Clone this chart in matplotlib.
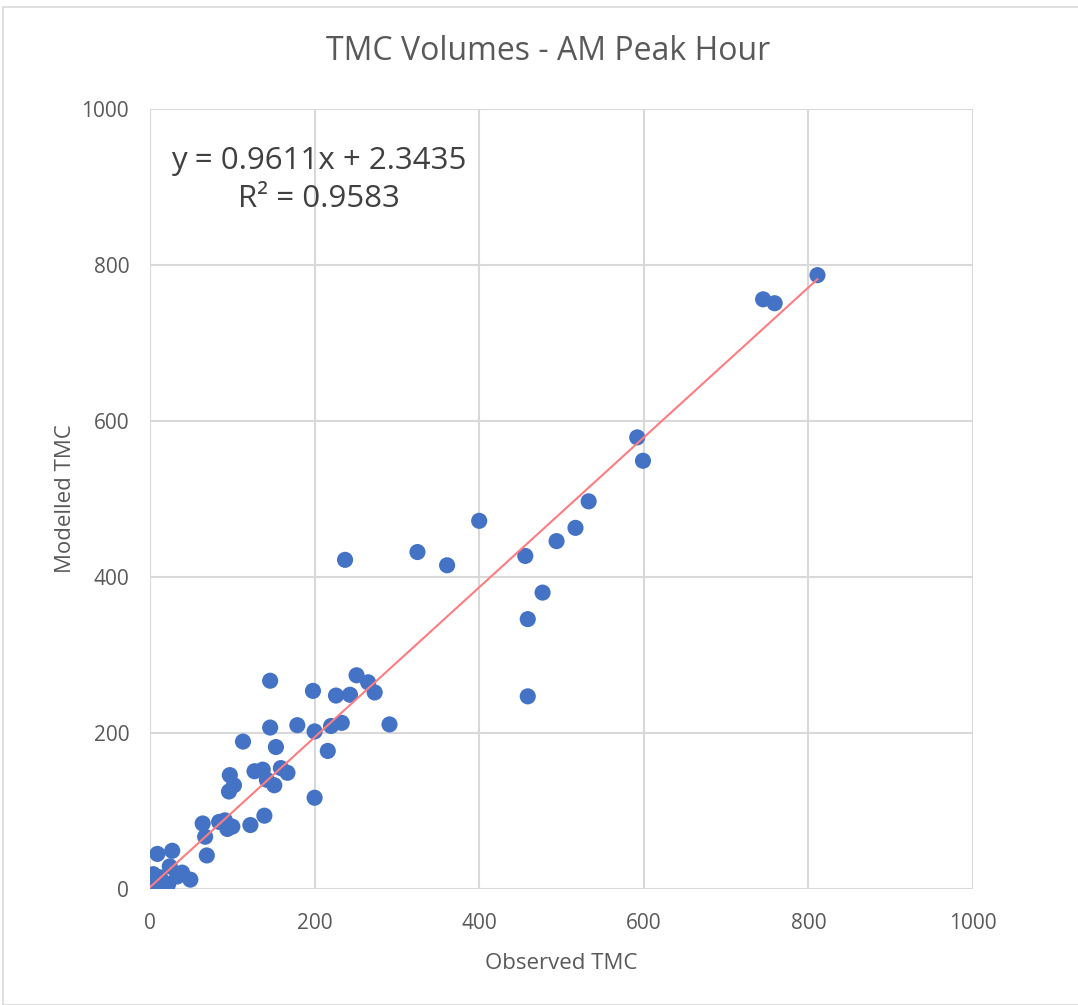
import matplotlib.pyplot as plt
from matplotlib.patches import Rectangle

# data
observed = [811, 745, 759, 592, 599, 533, 517, 494, 456, 400, 325, 361, 237, 477, 459, 459, 291,
            198, 226, 243, 251, 265, 273, 220, 233, 200, 179,
            146, 146, 216, 113, 153, 97, 102, 96, 127, 137, 142, 151, 159, 167, 200,
            64, 84, 91, 94, 100, 122, 139, 67, 69,
            9, 27, 24, 39, 49, 4, 12, 3, 0, 18, 22, 33, 15, 6]
modelled = [787, 756, 751, 579, 549, 497, 463, 446, 427, 472, 432, 415, 422, 380, 346, 247, 211,
            254, 248, 249, 274, 265, 252, 209, 213, 202, 210,
            267, 207, 177, 189, 182, 146, 133, 125, 151, 153, 140, 133, 155, 149, 117,
            84, 86, 88, 77, 80, 82, 94, 67, 43,
            45, 49, 29, 21, 12, 19, 15, 3, 0, 3, 6, 16, 10, 10]
slope, intercept = 0.9611, 2.3435
ticks = [0, 200, 400, 600, 800, 1000]

plt.rcParams['font.family'] = ['Open Sans', 'DejaVu Sans']
grey = '#595959'

fig = plt.figure(figsize=(10.78, 10.05), dpi=100)
ax = fig.add_axes([150/1078, 1-889/1005, 823/1078, 780/1005])

# chart border
fig.patches.append(Rectangle((3/1078, 0), 1, 1-7/1005, transform=fig.transFigure,
                             fill=False, edgecolor='#d9d9d9', linewidth=1.2))

ax.scatter(observed, modelled, s=135, color='#4472C4', edgecolors='none', zorder=3)
xmax = max(observed)
ax.plot([0, xmax], [intercept, slope*xmax + intercept], color='#FF7C80', linewidth=1.5, zorder=4)

ax.set_xlim(0, 1000)
ax.set_ylim(0, 1000)
ax.set_xticks(ticks)
ax.set_yticks(ticks)
ax.grid(color='#d9d9d9', linewidth=1.5, zorder=0)
for s in ax.spines.values():
    s.set_visible(False)
ax.tick_params(length=0, labelsize=15, colors=grey)
ax.tick_params(axis='x', pad=17)
ax.tick_params(axis='y', pad=15)
ax.set_axisbelow(True)

ax.set_xlabel('Observed TMC', fontsize=16, color=grey, labelpad=14)
ax.set_ylabel('Modelled TMC', fontsize=16, color=grey, labelpad=4)
fig.text(548/1078, 1-52/1005, 'TMC Volumes - AM Peak Hour', fontsize=23, color=grey,
         ha='center', va='center')
fig.text(319/1078, 1-180/1005, 'y = 0.9611x + 2.3435\nR² = 0.9583', fontsize=22.5,
         color='#404040', ha='center', va='center', linespacing=1.35)

plt.savefig('out.png', dpi=100)
